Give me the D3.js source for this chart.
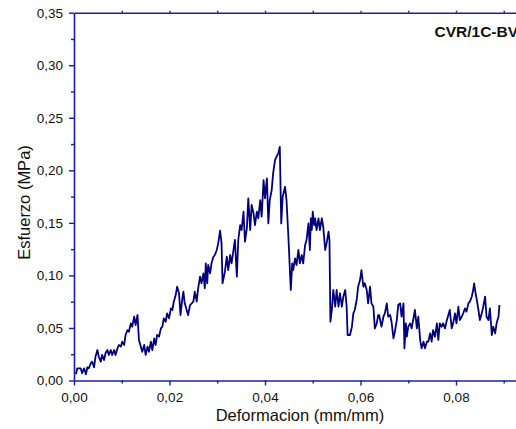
<!DOCTYPE html>
<html>
<head>
<meta charset="utf-8">
<script src="https://cdn.jsdelivr.net/npm/d3@7"></script>
<style>
  html, body { margin: 0; padding: 0; background: #fff; overflow: hidden; }
  svg { display: block; }
  text { font-family: Arial, "Liberation Sans", sans-serif; fill: #111; }
</style>
</head>
<body>
<svg id="chart" width="516" height="429"></svg>
<script>
// Stress–strain record, specimen CVR/1C-BV
const strain = [
  0.0004,0.0007,0.0014,0.0017,0.0021,0.0025,0.0028,0.0031,0.0035,0.0038,0.0042,0.0045,0.0049,0.0052,0.0056,0.0059,
  0.0063,0.0066,0.0070,0.0073,0.0077,0.0080,0.0084,0.0087,0.0091,0.0094,0.0098,0.0101,0.0105,0.0108,0.0112,0.0115,
  0.0119,0.0122,0.0126,0.0129,0.0133,0.0136,0.0140,0.0143,0.0147,0.0150,0.0154,0.0157,0.0161,0.0164,0.0168,0.0171,
  0.0174,0.0178,0.0182,0.0185,0.0188,0.0192,0.0195,0.0199,0.0203,0.0206,0.0209,0.0213,0.0216,0.0220,0.0223,0.0227,
  0.0229,0.0232,0.0239,0.0243,0.0250,0.0253,0.0257,0.0260,0.0264,0.0267,0.0271,0.0274,0.0276,0.0279,0.0281,0.0285,
  0.0288,0.0292,0.0295,0.0299,0.0302,0.0306,0.0309,0.0311,0.0316,0.0320,0.0323,0.0327,0.0330,0.0334,0.0337,0.0341,
  0.0344,0.0348,0.0351,0.0355,0.0358,0.0362,0.0365,0.0369,0.0372,0.0376,0.0379,0.0383,0.0386,0.0390,0.0393,0.0397,
  0.0400,0.0404,0.0407,0.0410,0.0414,0.0417,0.0421,0.0424,0.0428,0.0431,0.0434,0.0437,0.0442,0.0445,0.0449,0.0454,
  0.0457,0.0459,0.0463,0.0466,0.0470,0.0473,0.0477,0.0480,0.0484,0.0487,0.0491,0.0494,0.0496,0.0498,0.0500,0.0503,
  0.0505,0.0508,0.0512,0.0515,0.0519,0.0522,0.0526,0.0529,0.0533,0.0535,0.0537,0.0540,0.0543,0.0547,0.0550,0.0554,
  0.0557,0.0561,0.0564,0.0568,0.0571,0.0573,0.0578,0.0582,0.0585,0.0588,0.0592,0.0595,0.0599,0.0602,0.0606,0.0609,
  0.0613,0.0616,0.0620,0.0623,0.0627,0.0630,0.0634,0.0637,0.0639,0.0644,0.0648,0.0651,0.0655,0.0658,0.0662,0.0665,
  0.0669,0.0672,0.0676,0.0679,0.0683,0.0686,0.0690,0.0692,0.0695,0.0697,0.0700,0.0704,0.0707,0.0711,0.0714,0.0718,
  0.0721,0.0725,0.0728,0.0732,0.0735,0.0739,0.0742,0.0746,0.0749,0.0752,0.0756,0.0760,0.0763,0.0766,0.0770,0.0773,
  0.0777,0.0780,0.0784,0.0787,0.0791,0.0794,0.0798,0.0801,0.0805,0.0808,0.0812,0.0815,0.0819,0.0822,0.0826,0.0829,
  0.0833,0.0836,0.0838,0.0841,0.0843,0.0847,0.0850,0.0854,0.0857,0.0861,0.0864,0.0868,0.0871,0.0875,0.0878,0.0882,
  0.0885,0.0889,0.0891
];
const stress = [
  0.0059,0.0116,0.0116,0.0069,0.0116,0.0059,0.0126,0.0116,0.0164,0.0179,0.0126,0.0226,0.0290,0.0226,0.0179,0.0243,
  0.0195,0.0259,0.0290,0.0243,0.0290,0.0243,0.0290,0.0243,0.0306,0.0338,0.0322,0.0369,0.0338,0.0433,0.0480,0.0464,
  0.0544,0.0512,0.0607,0.0528,0.0623,0.0385,0.0322,0.0274,0.0338,0.0243,0.0322,0.0274,0.0369,0.0290,0.0401,0.0338,
  0.0433,0.0417,0.0496,0.0512,0.0592,0.0559,0.0639,0.0592,0.0687,0.0671,0.0750,0.0813,0.0892,0.0830,0.0623,0.0782,
  0.0845,0.0734,0.0623,0.0718,0.0750,0.0845,0.0750,0.0877,0.0988,0.0925,0.1020,0.0877,0.1115,0.0925,0.1099,0.1020,
  0.1115,0.1178,0.1194,0.1242,0.1305,0.1425,0.1305,0.0925,0.1035,0.1178,0.1051,0.1194,0.1115,0.1242,0.1337,0.0988,
  0.1337,0.1479,0.1432,0.1606,0.1321,0.1448,0.1733,0.1432,0.1670,0.1591,0.1479,0.1606,0.1543,0.1717,0.1559,0.1907,
  0.1733,0.1923,0.1495,0.1717,0.1812,0.1971,0.2098,0.2129,0.2161,0.2224,0.1495,0.1748,0.1843,0.1717,0.1368,0.0861,
  0.1115,0.1051,0.1162,0.1099,0.1242,0.1115,0.1194,0.1115,0.1289,0.1337,0.1495,0.1242,0.1543,0.1432,0.1606,0.1479,
  0.1543,0.1432,0.1543,0.1432,0.1543,0.1463,0.1242,0.1305,0.1416,0.1337,0.0559,0.0671,0.0861,0.0702,0.0861,0.0702,
  0.0830,0.0702,0.0797,0.0861,0.0702,0.0433,0.0433,0.0512,0.0639,0.0671,0.0766,0.0892,0.0956,0.1051,0.0892,0.0925,
  0.0861,0.0734,0.0892,0.0734,0.0702,0.0496,0.0544,0.0623,0.0623,0.0512,0.0607,0.0639,0.0734,0.0607,0.0623,0.0559,
  0.0401,0.0464,0.0575,0.0718,0.0734,0.0607,0.0734,0.0306,0.0544,0.0417,0.0512,0.0544,0.0496,0.0592,0.0671,0.0496,
  0.0607,0.0385,0.0306,0.0369,0.0306,0.0369,0.0369,0.0449,0.0369,0.0480,0.0417,0.0544,0.0385,0.0544,0.0512,0.0544,
  0.0496,0.0559,0.0623,0.0671,0.0496,0.0544,0.0639,0.0544,0.0702,0.0575,0.0607,0.0639,0.0687,0.0655,0.0734,0.0750,
  0.0797,0.0861,0.0925,0.0830,0.0782,0.0671,0.0575,0.0639,0.0702,0.0797,0.0607,0.0575,0.0687,0.0433,0.0512,0.0449,
  0.0544,0.0607,0.0718
];

const xTicks = [0, 0.02, 0.04, 0.06, 0.08];
const xMinorTicks = [0.01, 0.03, 0.05, 0.07, 0.09];
const yTicks = [0, 0.05, 0.10, 0.15, 0.20, 0.25, 0.30, 0.35];
const yMinorTicks = [0.025, 0.075, 0.125, 0.175, 0.225, 0.275, 0.325];

const axisColor = "#1c1ca6";
const lineColor = "#00007f";
const fmt = d => d3.format(".2f")(d).replace(".", ",");

const svg = d3.select("#chart");
const plotLeft = 74, plotTop = 12.7, plotBottom = 380.5;

// the frame runs past the right edge of the page
const x = d3.scaleLinear().domain([0, 0.1]).range([plotLeft, plotLeft + 477.5]);
const y = d3.scaleLinear().domain([0, 0.35]).range([plotBottom, plotTop]);

// top frame line with small ticks
svg.append("g").attr("transform", `translate(0,${plotTop})`)
  .call(d3.axisTop(x).tickValues(d3.range(0.01, 0.1, 0.01)).tickSize(2).tickFormat("").tickSizeOuter(0));

// bottom axis: major + minor ticks
const bx = svg.append("g").attr("transform", `translate(0,${plotBottom})`);
bx.call(d3.axisBottom(x).tickValues(xTicks).tickSize(5).tickPadding(7).tickFormat(fmt).tickSizeOuter(0));
bx.append("g").call(d3.axisBottom(x).tickValues(xMinorTicks).tickSize(3).tickFormat("").tickSizeOuter(0))
  .select(".domain").remove();

// left axis: major + minor ticks
const ly = svg.append("g").attr("transform", `translate(${plotLeft},0)`);
ly.call(d3.axisLeft(y).tickValues(yTicks).tickSize(5).tickPadding(6).tickFormat(fmt).tickSizeOuter(0));
ly.append("g").call(d3.axisLeft(y).tickValues(yMinorTicks).tickSize(3).tickFormat("").tickSizeOuter(0))
  .select(".domain").remove();

svg.selectAll(".domain").attr("stroke", axisColor).attr("stroke-width", 1.6);
svg.selectAll(".tick line").attr("stroke", axisColor).attr("stroke-width", 1.4);
svg.selectAll(".tick text")
  .style("font-size", "13.5px")
  .style("font-family", "Arial, 'Liberation Sans', sans-serif")
  .attr("fill", "#111");

// data curve
const points = d3.zip(strain, stress);
const line = d3.line().x(d => x(d[0])).y(d => y(d[1]));
svg.append("path")
  .datum(points)
  .attr("fill", "none")
  .attr("stroke", lineColor)
  .attr("stroke-width", 1.8)
  .attr("stroke-linejoin", "round")
  .attr("d", line);

// axis titles
svg.append("text")
  .attr("x", 300).attr("y", 420.5)
  .attr("text-anchor", "middle")
  .style("font-size", "16.5px")
  .text("Deformacion (mm/mm)");

svg.append("text")
  .attr("transform", "translate(29.5,202.5) rotate(-90)")
  .attr("text-anchor", "middle")
  .style("font-size", "16.5px")
  .text("Esfuerzo (MPa)");

// specimen label
svg.append("text")
  .attr("x", 434.5).attr("y", 37)
  .style("font-size", "15.5px")
  .style("font-weight", "bold")
  .text("CVR/1C-BV");
</script>
</body>
</html>
